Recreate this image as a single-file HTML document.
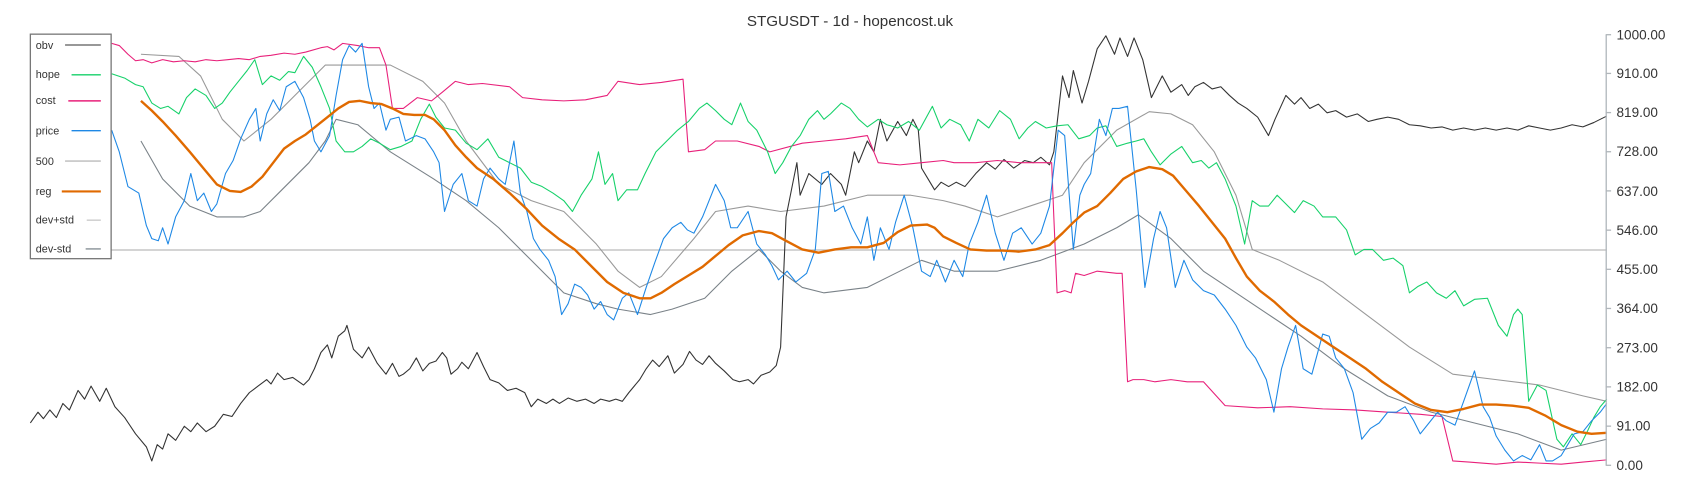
<!DOCTYPE html>
<html><head><meta charset="utf-8"><style>
html,body{margin:0;padding:0;background:#fff;}
svg{display:block;}
text{font-family:"Liberation Sans",sans-serif;fill:#333;}
</style></head><body>
<svg width="1700" height="500" viewBox="0 0 1568 461" preserveAspectRatio="none" xmlns="http://www.w3.org/2000/svg">
<text x="784" y="24" font-size="14" text-anchor="middle">STGUSDT - 1d - hopencost.uk</text>
<line x1="28" y1="230.5" x2="1482" y2="230.5" stroke="#bbb" stroke-width="1.2"/>
<g fill="none" stroke-linejoin="round">
<polyline stroke="#999" stroke-width="1" points="130,50 165,52 185,70 205,110 225,130 250,110 280,80 300,60 330,60 360,60 390,75 410,95 430,130 460,170 490,185 520,195 550,225 570,250 590,265 610,255 640,220 660,195 690,190 720,195 760,190 800,180 840,180 870,185 890,190 920,200 950,190 980,180 1000,150 1030,120 1060,103 1080,105 1100,115 1120,140 1140,180 1155,230 1180,240 1220,260 1260,290 1300,320 1340,345 1380,350 1420,355 1460,365 1482,370"/>
<polyline stroke="#7a8288" stroke-width="1" points="130,130 150,165 175,190 200,200 225,200 240,195 260,175 285,150 300,130 310,110 330,115 360,140 400,165 430,185 460,210 490,240 520,270 550,280 570,285 600,290 620,285 650,275 675,250 700,230 720,250 740,265 760,270 800,265 820,255 850,240 880,250 920,250 960,240 1000,225 1030,210 1050,198 1080,220 1110,250 1140,270 1170,290 1200,310 1240,340 1280,365 1320,380 1360,390 1400,400 1440,415 1482,405"/>
<polyline stroke="#333" stroke-width="1" points="28,390 35,380 40,386 46,378 52,385 58,372 64,378 72,360 78,368 84,356 92,370 98,358 106,375 115,385 125,400 135,412 140,425 145,410 150,414 155,400 162,406 170,393 176,398 182,390 190,398 198,393 206,382 214,384 222,372 230,362 238,356 246,350 250,354 256,344 262,350 270,348 280,355 285,350 290,340 296,325 302,318 306,330 312,310 318,305 320,300 326,322 334,330 340,320 348,335 356,345 362,335 368,347 372,345 378,340 384,330 390,342 396,335 402,333 408,325 412,330 416,345 422,340 426,334 432,340 440,325 446,338 452,350 460,353 468,360 476,358 484,362 490,375 496,368 504,372 510,368 516,372 524,367 532,370 540,368 548,372 554,368 562,370 568,368 574,370 580,362 590,350 596,340 602,332 608,338 616,328 622,344 630,336 636,324 642,332 648,336 654,328 660,335 668,342 676,350 682,352 690,350 695,354 702,346 710,343 716,337 720,320 725,200 735,150 738,180 746,160 758,170 766,160 776,170 780,180 788,140 792,150 800,130 806,140 812,110 818,130 828,112 836,125 842,110 847,120 850,155 856,165 862,175 868,168 875,172 882,168 890,172 900,160 910,150 918,156 926,147 935,155 945,148 953,150 960,145 968,152 972,140 980,70 986,90 990,65 998,95 1004,75 1012,45 1020,33 1028,50 1033,35 1040,52 1046,35 1054,55 1062,90 1072,70 1080,85 1090,78 1096,88 1102,80 1110,76 1118,82 1126,80 1134,88 1142,95 1150,100 1160,108 1170,125 1176,110 1186,88 1194,96 1200,90 1208,100 1216,96 1224,104 1232,102 1242,108 1252,105 1262,112 1270,110 1280,108 1290,110 1300,115 1310,116 1320,118 1330,117 1340,120 1350,118 1360,120 1370,118 1380,120 1390,118 1400,120 1410,116 1420,118 1430,120 1440,118 1450,115 1460,117 1470,113 1482,107"/>
<polyline stroke="#e8207a" stroke-width="1" points="103,40 110,42 118,50 125,56 132,55 140,58 150,55 160,57 170,56 180,57 190,55 200,56 210,55 220,54 230,55 240,52 250,51 262,49 272,50 282,48 296,44 302,43 308,46 316,40 330,42 340,44 350,44 356,60 362,100 372,100 385,90 398,93 408,85 420,75 432,78 445,77 470,80 482,90 500,92 520,93 540,92 560,88 570,75 590,78 610,76 630,73 635,140 650,138 660,130 680,130 700,135 710,140 740,132 760,130 780,128 800,125 810,150 830,152 850,150 870,148 880,150 900,150 920,148 940,150 960,150 970,150 972,200 975,270 982,268 988,270 992,252 1000,254 1012,250 1030,252 1035,252 1040,352 1045,350 1055,350 1065,352 1080,350 1095,352 1110,352 1130,374 1160,376 1190,375 1220,377 1250,378 1280,380 1310,382 1330,384 1340,425 1355,426 1380,428 1400,426 1420,427 1440,428 1460,426 1482,424"/>
<polyline stroke="#16d16a" stroke-width="1" points="103,68 115,72 125,78 132,80 140,95 148,100 155,98 165,105 172,90 180,82 190,88 198,100 205,95 212,85 220,75 228,65 235,55 242,78 250,70 258,74 266,66 272,67 280,52 288,62 296,80 304,100 310,130 318,140 326,140 334,135 342,128 350,132 360,138 370,135 380,130 388,110 396,96 402,108 410,118 420,120 430,132 440,138 450,128 460,145 470,150 480,155 490,168 500,172 510,178 520,185 528,195 536,180 546,165 552,140 558,170 565,160 570,185 578,175 588,175 595,160 605,140 615,130 625,120 635,112 645,100 652,95 660,102 668,110 675,115 683,95 690,112 698,120 708,140 715,160 722,150 730,135 738,125 746,110 754,102 760,110 766,105 776,95 784,100 792,110 800,117 810,110 818,115 828,118 838,112 848,120 860,98 868,118 876,110 886,115 894,130 902,110 912,118 922,102 932,110 940,128 948,118 955,112 965,118 975,116 985,115 995,128 1005,125 1012,118 1020,116 1030,135 1040,132 1048,130 1055,128 1062,140 1070,152 1080,142 1090,135 1100,150 1108,148 1115,155 1122,150 1130,165 1140,190 1148,225 1155,185 1162,190 1170,190 1178,180 1186,188 1194,196 1202,185 1212,190 1220,200 1232,200 1242,212 1250,235 1258,230 1266,230 1276,240 1285,238 1294,245 1300,270 1308,264 1316,260 1325,270 1334,275 1342,268 1350,282 1360,276 1372,275 1382,300 1390,310 1396,290 1400,285 1404,290 1410,370 1418,355 1426,360 1436,405 1442,412 1450,400 1458,410 1464,398 1470,385 1476,375 1482,368"/>
<polyline stroke="#1e88e5" stroke-width="1" points="103,120 110,140 118,172 128,178 135,208 140,220 146,222 150,210 155,225 162,200 170,185 176,160 182,185 188,178 195,195 200,188 208,160 215,148 222,128 230,110 236,100 240,130 246,105 252,92 258,102 264,80 272,75 280,90 286,110 290,130 296,140 304,125 310,88 316,55 322,42 328,48 334,40 340,80 345,100 350,95 356,120 360,110 368,108 374,130 384,125 392,128 400,140 405,150 410,195 418,170 426,160 432,185 440,190 446,165 452,155 460,165 466,170 474,130 480,178 486,195 492,220 498,230 506,240 512,255 518,290 524,280 530,262 536,265 542,272 548,285 554,278 560,290 566,295 574,275 580,270 588,290 596,265 604,242 612,220 620,210 628,205 634,212 640,215 648,200 654,185 660,170 668,185 674,210 680,210 690,195 698,225 706,235 712,245 718,258 726,250 734,260 744,252 752,230 758,160 764,158 770,195 778,190 786,210 794,225 800,200 806,240 812,210 820,230 826,205 834,180 842,210 850,250 858,255 864,240 872,260 880,240 888,255 894,225 902,205 910,180 918,215 926,240 934,215 942,210 952,225 960,215 968,190 976,120 982,125 990,230 996,180 1000,170 1006,160 1014,110 1020,125 1026,100 1032,100 1040,98 1048,175 1056,265 1064,220 1070,195 1076,210 1084,265 1092,240 1100,258 1110,268 1120,272 1130,285 1140,300 1150,320 1158,330 1168,350 1175,380 1182,340 1188,320 1195,300 1202,340 1210,345 1220,308 1226,310 1232,330 1240,340 1248,362 1256,405 1264,395 1272,390 1280,380 1288,380 1296,375 1304,388 1310,400 1318,390 1326,380 1334,388 1342,392 1350,370 1360,342 1368,375 1374,385 1380,402 1388,415 1396,425 1404,420 1412,424 1420,410 1426,425 1432,425 1440,420 1446,410 1452,400 1460,398 1468,388 1476,380 1482,372"/>
<polyline stroke="#e06a00" stroke-width="2.2" points="130,93 140,102 150,112 162,125 175,140 190,158 200,170 212,176 222,177 232,172 242,163 252,150 262,137 272,130 282,124 292,116 302,108 312,100 322,94 332,93 342,95 352,96 362,100 372,105 382,106 392,106 400,110 410,120 420,134 430,145 440,155 455,165 470,178 485,192 500,208 515,220 530,230 545,245 560,260 575,270 590,275 600,275 610,270 622,262 635,254 648,246 660,236 672,226 685,217 700,213 712,215 725,222 740,230 755,233 770,230 785,228 800,228 815,224 828,214 840,208 855,207 862,210 870,218 882,224 895,230 910,231 925,231 940,232 955,230 968,226 980,215 990,205 1000,196 1012,190 1024,178 1036,165 1048,158 1060,154 1072,156 1082,162 1094,176 1106,190 1118,205 1130,220 1140,238 1150,255 1162,268 1175,278 1188,290 1200,300 1215,310 1230,320 1245,330 1260,340 1275,352 1290,362 1305,372 1320,378 1335,380 1350,377 1365,373 1380,373 1395,374 1410,376 1425,383 1440,392 1455,398 1468,400 1482,399"/>
</g>
<line x1="1481.5" y1="32" x2="1481.5" y2="429" stroke="#b0b6bb" stroke-width="1.2"/>
<g stroke="#b0b6bb" stroke-width="1.2">
<line x1="1481" y1="32" x2="1486" y2="32"/><line x1="1481" y1="67.7" x2="1486" y2="67.7"/><line x1="1481" y1="103.8" x2="1486" y2="103.8"/><line x1="1481" y1="139.9" x2="1486" y2="139.9"/><line x1="1481" y1="176" x2="1486" y2="176"/><line x1="1481" y1="212.2" x2="1486" y2="212.2"/><line x1="1481" y1="248.3" x2="1486" y2="248.3"/><line x1="1481" y1="284.4" x2="1486" y2="284.4"/><line x1="1481" y1="320.6" x2="1486" y2="320.6"/><line x1="1481" y1="356.7" x2="1486" y2="356.7"/><line x1="1481" y1="392.9" x2="1486" y2="392.9"/><line x1="1481" y1="429" x2="1486" y2="429"/>
</g>
<g font-size="12.5">
<text x="1491" y="36.5">1000.00</text><text x="1491" y="72">910.00</text><text x="1491" y="108">819.00</text><text x="1491" y="144">728.00</text><text x="1491" y="180.5">637.00</text><text x="1491" y="216.5">546.00</text><text x="1491" y="252.5">455.00</text><text x="1491" y="288.5">364.00</text><text x="1491" y="325">273.00</text><text x="1491" y="361">182.00</text><text x="1491" y="397">91.00</text><text x="1491" y="433.5">0.00</text>
</g>
<rect x="28" y="31.5" width="74.5" height="207" fill="#fff" stroke="#777" stroke-width="1.2"/>
<g font-size="10">
<text x="33" y="45">obv</text><line x1="60" y1="41.5" x2="93" y2="41.5" stroke="#777" stroke-width="1.3"/>
<text x="33" y="72">hope</text><line x1="66" y1="69" x2="93" y2="69" stroke="#16d16a" stroke-width="1.3"/>
<text x="33" y="96">cost</text><line x1="63" y1="93" x2="93" y2="93" stroke="#e8207a" stroke-width="1.3"/>
<text x="33" y="124">price</text><line x1="66" y1="120.5" x2="93" y2="120.5" stroke="#1e88e5" stroke-width="1.3"/>
<text x="33" y="152">500</text><line x1="60" y1="148.5" x2="93" y2="148.5" stroke="#bbb" stroke-width="1.3"/>
<text x="33" y="180">reg</text><line x1="57" y1="176.5" x2="93" y2="176.5" stroke="#e06a00" stroke-width="2"/>
<text x="33" y="206">dev+std</text><line x1="80" y1="203" x2="93" y2="203" stroke="#ccc" stroke-width="1.3"/>
<text x="33" y="233">dev-std</text><line x1="79" y1="229.5" x2="93" y2="229.5" stroke="#8a9298" stroke-width="1.3"/>
</g>
</svg>
</body></html>
